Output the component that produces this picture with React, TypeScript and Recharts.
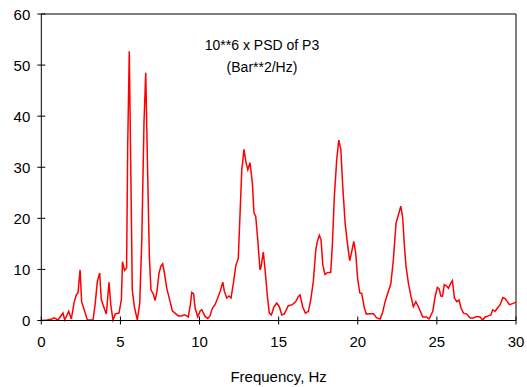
import React from "react";
import { LineChart, Line, XAxis, YAxis, ReferenceLine } from "recharts";

// frequency (Hz) and 10**6 x PSD values
const freqs = [
  0, 0.36, 0.68, 0.8, 1.06, 1.37, 1.48, 1.73, 1.9, 2.07, 2.21, 2.32, 2.45, 2.55, 2.74, 2.91,
  3.27, 3.41, 3.54, 3.69, 3.79, 4.01, 4.11, 4.28, 4.39, 4.53, 4.68, 4.91, 5.06, 5.13, 5.26,
  5.39, 5.46, 5.56, 5.67, 5.75, 5.88, 6.07, 6.22, 6.35, 6.49, 6.6, 6.73, 6.83, 6.93, 7.08,
  7.19, 7.31, 7.44, 7.57, 7.67, 7.78, 7.93, 8.14, 8.28, 8.45, 8.66, 8.87, 9.04, 9.19, 9.29,
  9.42, 9.51, 9.63, 9.72, 9.89, 10.03, 10.14, 10.35, 10.52, 10.66, 10.81, 10.98, 11.15,
  11.3, 11.47, 11.57, 11.72, 11.86, 11.99, 12.14, 12.29, 12.45, 12.67, 12.81, 12.94, 13.05,
  13.19, 13.34, 13.44, 13.55, 13.68, 13.82, 13.89, 14.03, 14.16, 14.29, 14.41, 14.54,
  14.71, 14.88, 15.04, 15.2, 15.36, 15.61, 15.87, 16.08, 16.25, 16.35, 16.52, 16.69,
  16.88, 17.03, 17.19, 17.35, 17.45, 17.57, 17.68, 17.79, 17.93, 18.1, 18.29, 18.39,
  18.52, 18.67, 18.8, 18.93, 19.05, 19.2, 19.37, 19.49, 19.62, 19.75, 19.87, 20.0, 20.13,
  20.25, 20.4, 20.54, 20.76, 20.99, 21.2, 21.41, 21.56, 21.73, 21.9, 22.09, 22.25, 22.42,
  22.57, 22.72, 22.84, 22.95, 23.05, 23.2, 23.35, 23.51, 23.67, 23.83, 24.05, 24.11,
  24.32, 24.51, 24.74, 24.89, 25.03, 25.14, 25.25, 25.35, 25.47, 25.6, 25.73, 25.88,
  25.98, 26.11, 26.26, 26.4, 26.53, 26.68, 26.89, 27.1, 27.31, 27.52, 27.73, 27.9, 28.05,
  28.26, 28.41, 28.53, 28.68, 28.82, 29.0, 29.17, 29.31, 29.46, 29.58, 29.79, 30.0,
];

const psd = [
  0, 0.1, 0.3, 0.5, 0.1, 1.45, 0.1, 1.8, 0.3, 3.5, 5.0, 5.4, 9.9, 3.7, 1.8, 0.1,
  0.1, 3.4, 7.6, 9.3, 4.1, 2.1, 1.3, 7.5, 3.1, 0.1, 1.3, 1.45, 4.1, 11.5, 9.8,
  10.3, 34, 52.7, 26, 6, 2.7, 0.1, 3.4, 15.5, 38.7, 48.5, 27.6, 12.5, 6.0, 5.2,
  3.9, 5.7, 9.3, 10.7, 11.1, 9.3, 6.3, 3.7, 1.9, 1.45, 0.9, 0.9, 1.1, 0.9, 0.7,
  3.1, 5.5, 5.2, 2.4, 0.7, 1.8, 2.1, 0.8, 0.4, 0.9, 2.4, 3.1, 4.4,
  5.7, 7.5, 5.7, 4.4, 4.8, 4.4, 7.3, 10.7, 12.2, 29.5, 33.5, 30.9, 29.5,
  30.9, 26.9, 21.1, 20.4, 15.8, 9.9, 10.5, 13.4, 9.3, 4.7, 1.45, 1.1,
  2.7, 3.4, 2.7, 1.1, 1.3, 2.9, 3.1, 3.7, 4.7, 5.0, 2.7, 1.45,
  1.8, 4.1, 7.6, 13.9, 15.5, 16.7, 15.8, 10.9, 9.0, 9.4, 9.4, 14.5,
  24.3, 31.5, 35.3, 33.5, 26.3, 19.1, 14.5, 11.7, 13.5, 15.5, 13.2, 8.0, 5.4,
  5.3, 2.7, 1.25, 1.3, 1.3, 0.5, 0.3, 1.45, 3.7, 5.4, 7.2, 11.9, 19.1,
  20.7, 22.4, 20.1, 14.5, 10.6, 7.3, 4.9, 2.7, 3.7, 2.7, 1.1, 0.7,
  0.7, 0.3, 1.8, 4.7, 6.5, 6.2, 4.8, 4.7, 7.0, 6.8, 6.3, 7.3,
  7.8, 4.4, 3.7, 4.0, 2.4, 1.45, 1.25, 0.5, 0.5, 0.8, 0.7, 0.1, 0.7,
  0.9, 1.1, 2.1, 1.8, 2.4, 3.1, 4.5, 4.3, 3.7, 3.1, 3.3, 3.6,
];

const xTicks = [0, 5, 10, 15, 20, 25, 30];
const yTicks = [0, 10, 20, 30, 40, 50, 60];

const data = freqs.map((f, i) => ({ f, psd: psd[i] }));

const FONT = "'Liberation Sans', Arial, sans-serif";

const YTick = (props: any) => {
  const { x, y, payload } = props;
  const ax = x + 11;
  return (
    <g>
      <line x1={ax - 4} x2={ax + 4} y1={y} y2={y} stroke="#000" />
      <text x={x} y={y} textAnchor="end" dominantBaseline="central" fontSize={15} fontFamily={FONT} fill="#000">
        {payload.value}
      </text>
    </g>
  );
};

const XTick = (props: any) => {
  const { x, y, payload } = props;
  const ay = y - 16;
  return (
    <g>
      <line x1={x} x2={x} y1={ay - 4} y2={ay + 4} stroke="#000" />
      <text x={x} y={y} textAnchor="middle" dy="0.71em" fontSize={15} fontFamily={FONT} fill="#000">
        {payload.value}
      </text>
    </g>
  );
};

export default function App() {
  return (
    <div style={{ position: "absolute", left: 0, top: 0, width: 527, height: 387, background: "#fff" }}>
      <LineChart width={527} height={387} data={data} margin={{ top: 14, right: 11, bottom: 0, left: 0 }}>
        <XAxis
          dataKey="f"
          type="number"
          domain={[0, 30]}
          ticks={xTicks}
          height={66.5}
          tickSize={0}
          tickMargin={16}
          tickLine={false}
          tick={<XTick />}
          axisLine={{ stroke: "#000" }}
          label={{ value: "Frequency, Hz", position: "insideBottom", offset: 5, fontSize: 15, fontFamily: FONT, fill: "#000" }}
        />
        <YAxis
          type="number"
          domain={[0, 60]}
          ticks={yTicks}
          width={41.3}
          tickSize={0}
          tickMargin={11}
          tickLine={false}
          tick={<YTick />}
          axisLine={{ stroke: "#000" }}
        />
        <ReferenceLine y={60} stroke="#000" />
        <ReferenceLine x={30} stroke="#000" />
        <Line
          type="linear"
          dataKey="psd"
          stroke="#ff0000"
          strokeWidth={1.5}
          dot={false}
          isAnimationActive={false}
        />
      </LineChart>
      <div style={{ position: "absolute", left: 162, width: 200, top: 34, textAlign: "center", fontFamily: FONT, fontSize: 14, lineHeight: "22px", color: "#000" }}>
        10**6 x PSD of P3
        <br />
        (Bar**2/Hz)
      </div>
    </div>
  );
}
